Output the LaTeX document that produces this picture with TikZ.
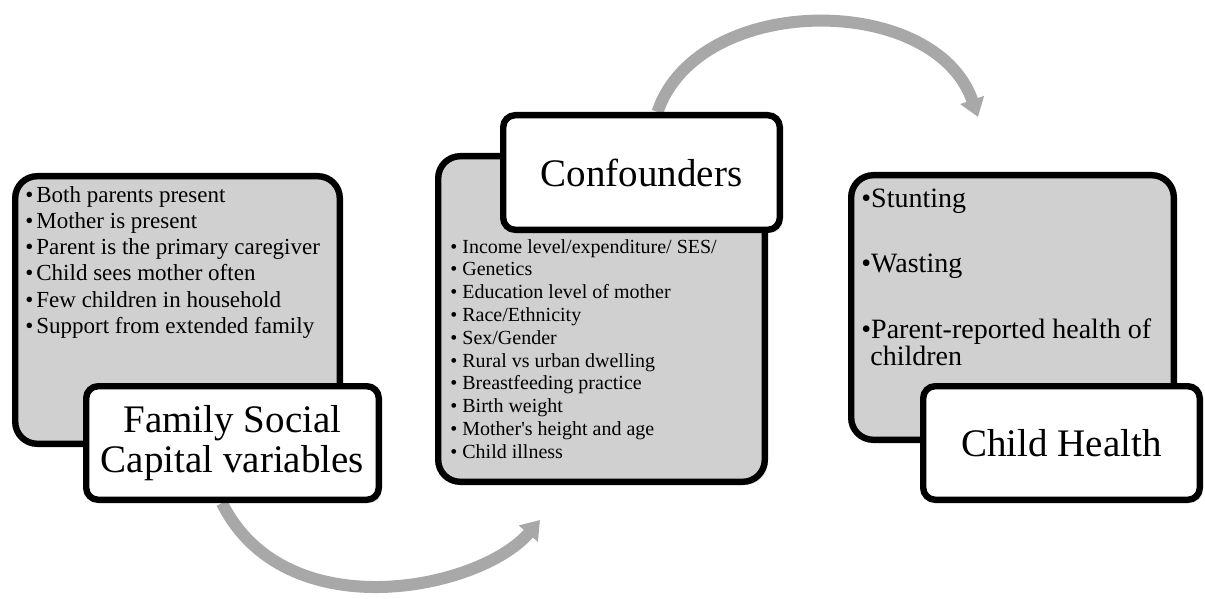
\documentclass[tikz,border=0pt]{standalone}
\usepackage{fontspec}
\setmainfont{Liberation Serif}
\usetikzlibrary{arrows.meta}
\usetikzlibrary{shadows}
\usetikzlibrary{backgrounds}

\definecolor{boxgray}{HTML}{D0D0D0}
\definecolor{arrowgray}{HTML}{A8A8A8}

\begin{document}
\begin{tikzpicture}[x=0.5pt,y=-0.5pt,
	listbox/.style={draw,line width=3.2pt,fill=boxgray,rounded corners=11pt,
		drop shadow={shadow xshift=1.5pt,shadow yshift=-1.5pt,opacity=.25}},
	titlebox/.style={draw,line width=3.2pt,fill=white,rounded corners=6pt,align=center,
		font=\fontsize{19.5}{20}\selectfont,
		drop shadow={shadow xshift=1.5pt,shadow yshift=-1.5pt,opacity=.25}},
	item/.style={anchor=base west,inner sep=0pt},
	bigarrow/.style={draw=arrowgray,line width=6pt,-{Triangle[length=9pt,width=12pt]}}]
\useasboundingbox (0,0) rectangle (1205,599);

\node[listbox,minimum width=162.3pt,minimum height=133.8pt] (famBox) at (177.5,310) {};
\node[listbox,minimum width=163.3pt,minimum height=162.8pt] (confBox) at (601.5,319) {};
\node[listbox,minimum width=161.3pt,minimum height=132.3pt] (healthBox) at (1012.5,307.5) {};

\foreach \t [count=\i] in {Both parents present,Mother is present,
	Parent is the primary caregiver,Child sees mother often,
	Few children in household,Support from extended family}{
	\node[item,font=\fontsize{11.5}{13}\selectfont] (fam\i) at (25,176+26.2*\i)
		{\makebox[5.5pt][l]{•}\t};
}
\foreach \t [count=\i] in {{Income level/expenditure/ SES/},Genetics,
	Education level of mother,{Race/Ethnicity},{Sex/Gender},
	Rural vs urban dwelling,Breastfeeding practice,Birth weight,
	Mother\textquotesingle s height and age,Child illness}{
	\node[item,font=\fontsize{10}{11}\selectfont] (conf\i) at (450,230.2+22.8*\i)
		{\makebox[6pt][l]{•}\t};
}
\foreach \y/\t [count=\i] in {207/Stunting,272/Wasting,338/Parent-reported health of}{
	\node[item,font=\fontsize{14}{14}\selectfont] (health\i) at (861,\y) {•\t};
}
\node[item,font=\fontsize{14}{14}\selectfont] (health4) at (870,365) {children};

\node[titlebox,minimum width=146.3pt,minimum height=56.8pt] (fam) at (232.5,443)
	{Family Social\\Capital variables};
\node[titlebox,minimum width=138.3pt,minimum height=57.3pt] (conf) at (641.5,172.5)
	{Confounders};
\node[titlebox,minimum width=138.3pt,minimum height=56.8pt] (health) at (1061.5,443)
	{Child Health};

\coordinate (topEnd) at (978,117);
\coordinate (botEnd) at (540,520);
\begin{scope}[on background layer]
\draw[bigarrow] ([xshift=8pt]conf.north) .. controls (698,-8) and (935,-8) .. (topEnd);
\draw[bigarrow] ([xshift=-5.25pt]fam.south) .. controls (285,630) and (480,590) .. (botEnd);
\end{scope}
\end{tikzpicture}
\end{document}
